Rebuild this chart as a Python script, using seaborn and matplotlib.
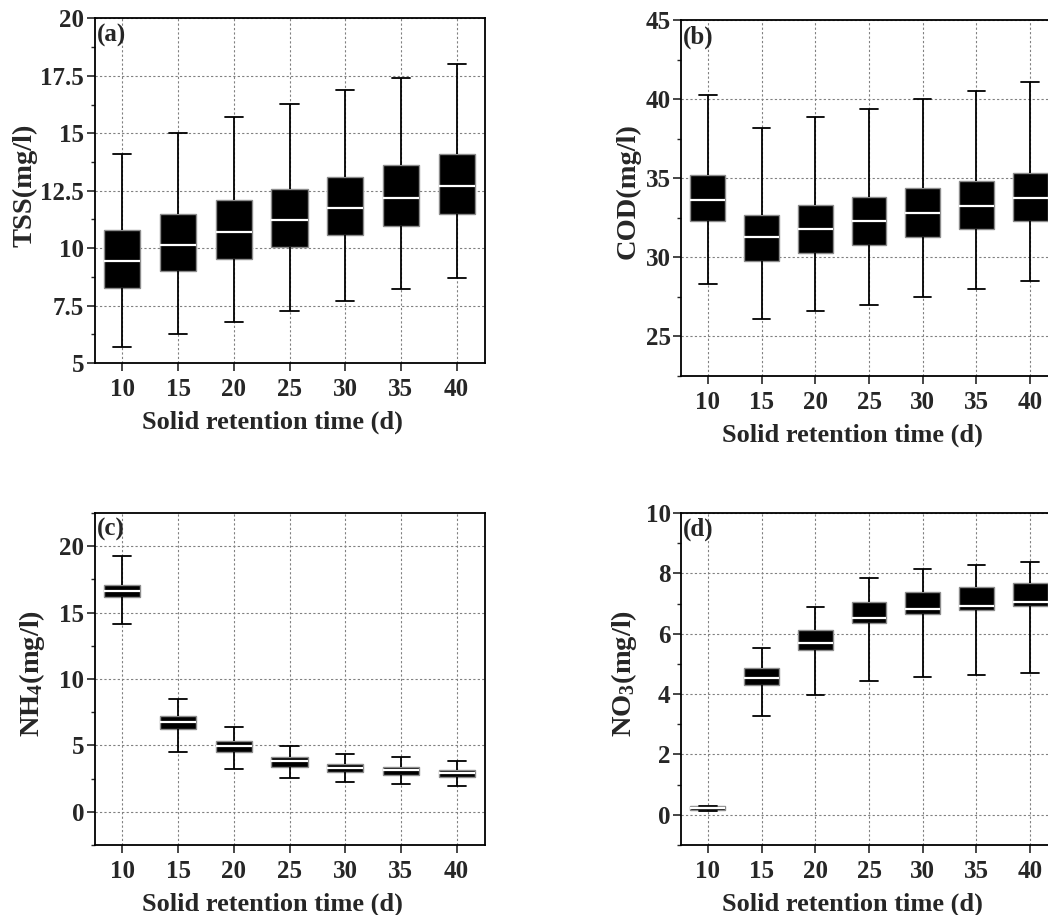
import numpy as np
import pandas as pd
import matplotlib
matplotlib.use('Agg')
import matplotlib.pyplot as plt
from matplotlib.ticker import MultipleLocator, FuncFormatter
import seaborn as sns

# tiempo de retencion de solidos (d)
srt = [10, 15, 20, 25, 30, 35, 40]

tss_low = [5.70, 6.26, 6.77, 7.25, 7.72, 8.22, 8.71]
tss_q1 = [8.25, 8.99, 9.54, 10.06, 10.57, 10.97, 11.48]
tss_med = [9.46, 10.13, 10.72, 11.23, 11.75, 12.19, 12.71]
tss_q3 = [10.80, 11.49, 12.10, 12.59, 13.10, 13.61, 14.10]
tss_high = [14.10, 15.00, 15.70, 16.29, 16.90, 17.39, 18.00]

cod_low = [28.29, 26.08, 26.58, 26.98, 27.49, 27.97, 28.48]
cod_q1 = [32.28, 29.77, 30.25, 30.76, 31.27, 31.77, 32.28]
cod_med = [33.63, 31.27, 31.77, 32.28, 32.78, 33.23, 33.73]
cod_q3 = [35.21, 32.70, 33.31, 33.80, 34.39, 34.81, 35.30]
cod_high = [40.27, 38.19, 38.88, 39.39, 39.98, 40.51, 41.10]

nh4_low = [14.13, 4.52, 3.24, 2.51, 2.23, 2.08, 1.98]
nh4_q1 = [16.14, 6.27, 4.52, 3.41, 2.99, 2.79, 2.61]
nh4_med = [16.61, 6.78, 4.97, 3.79, 3.31, 3.11, 2.89]
nh4_q3 = [17.06, 7.25, 5.35, 4.14, 3.61, 3.41, 3.16]
nh4_high = [19.25, 8.48, 6.40, 4.97, 4.39, 4.12, 3.84]

no3_low = [0.12, 3.28, 3.96, 4.43, 4.56, 4.63, 4.69]
no3_q1 = [0.17, 4.30, 5.47, 6.34, 6.64, 6.80, 6.91]
no3_med = [0.22, 4.54, 5.68, 6.53, 6.82, 6.93, 7.04]
no3_q3 = [0.28, 4.87, 6.12, 7.05, 7.38, 7.56, 7.69]
no3_high = [0.30, 5.52, 6.87, 7.86, 8.14, 8.27, 8.36]

sns.set_style("ticks")
plt.rcParams['font.family'] = ['Liberation Serif', 'DejaVu Serif']
plt.rcParams['font.weight'] = 'bold'
plt.rcParams['axes.labelweight'] = 'bold'
plt.rcParams['mathtext.fontset'] = 'custom'
plt.rcParams['mathtext.rm'] = 'Liberation Serif:bold'
plt.rcParams['mathtext.it'] = 'Liberation Serif:bold:italic'
plt.rcParams['mathtext.bf'] = 'Liberation Serif:bold'

W, H = 1048, 915


def tabla(low, q1, med, q3, high):
    # con 5 puntos por grupo, los percentiles 0/25/50/75/100 son exactamente estos valores
    filas = []
    for i, s in enumerate(srt):
        for v in (low[i], q1[i], med[i], q3[i], high[i]):
            filas.append({'srt': s, 'valor': v})
    return pd.DataFrame(filas)


def rect(izq, arriba, der, abajo):
    return [izq / W, 1 - abajo / H, (der - izq) / W, (abajo - arriba) / H]


paneles = [
    ('(a)', rect(94.5, 18.5, 484.5, 363), (5, 20), 2.5, 'TSS(mg/l)',
     tabla(tss_low, tss_q1, tss_med, tss_q3, tss_high), 38, 0.515),
    ('(b)', rect(681, 20, 1057, 376), (22.5, 45), 5, 'COD(mg/l)',
     tabla(cod_low, cod_q1, cod_med, cod_q3, cod_high), 641, 0.52),
    ('(c)', rect(94.5, 513, 484.5, 845), (-2.5, 22.5), 5, r'NH$_4$(mg/l)',
     tabla(nh4_low, nh4_q1, nh4_med, nh4_q3, nh4_high), 47, 0.518),
    ('(d)', rect(681, 513, 1057, 845), (-1, 10), 2, r'NO$_3$(mg/l)',
     tabla(no3_low, no3_q1, no3_med, no3_q3, no3_high), 639, 0.518),
]

fig = plt.figure(figsize=(W / 100, H / 100), dpi=100)

for letra, r, ylim, paso, ylabel, df, xlab, ylab_frac in paneles:
    ax = fig.add_axes(r)
    sns.boxplot(
        data=df, x='srt', y='valor', native_scale=True, whis=(0, 100),
        width=0.65, color='black', linecolor='black', linewidth=1.3,
        showfliers=False, saturation=1,
        medianprops=dict(color='white', linewidth=1.6),
        boxprops=dict(edgecolor='0.55', linewidth=1.0),
        ax=ax,
    )
    ax.set_xlim(7.5, 42.5)
    ax.set_ylim(*ylim)
    ax.set_xticks(srt)
    ax.set_xticklabels([str(s) for s in srt])
    ax.yaxis.set_major_locator(MultipleLocator(paso))
    ax.yaxis.set_minor_locator(MultipleLocator(paso / 2))
    ax.yaxis.set_major_formatter(FuncFormatter(lambda v, p: '{:g}'.format(v)))
    ax.tick_params(axis='both', which='major', direction='out', length=6,
                   width=1.2, labelsize=18)
    ax.tick_params(axis='x', which='major', pad=5)
    ax.tick_params(axis='y', which='major', pad=1.5)
    ax.tick_params(axis='y', which='minor', direction='out', length=3, width=1.0)
    ax.set_axisbelow(True)
    ax.grid(True, which='major', linestyle=(0, (2, 2)), color='0.5', linewidth=0.8)
    for sp in ax.spines.values():
        sp.set_linewidth(1.3)
        sp.set_color('black')

    ax.set_xlabel('Solid retention time (d)', fontsize=19, fontweight='bold')
    ax.set_ylabel(ylabel, fontsize=20.5, fontweight='bold')
    izq = r[0] * W
    ancho = r[2] * W
    alto = r[3] * H
    ax.xaxis.set_label_coords(0.455, -48 / alto)
    ax.yaxis.set_label_coords((xlab - izq) / ancho, ylab_frac)

    ax.text(0.006, 0.985, letra, transform=ax.transAxes, ha='left', va='top',
            fontsize=18, fontweight='bold')

fig.savefig('out.png', dpi=100)
